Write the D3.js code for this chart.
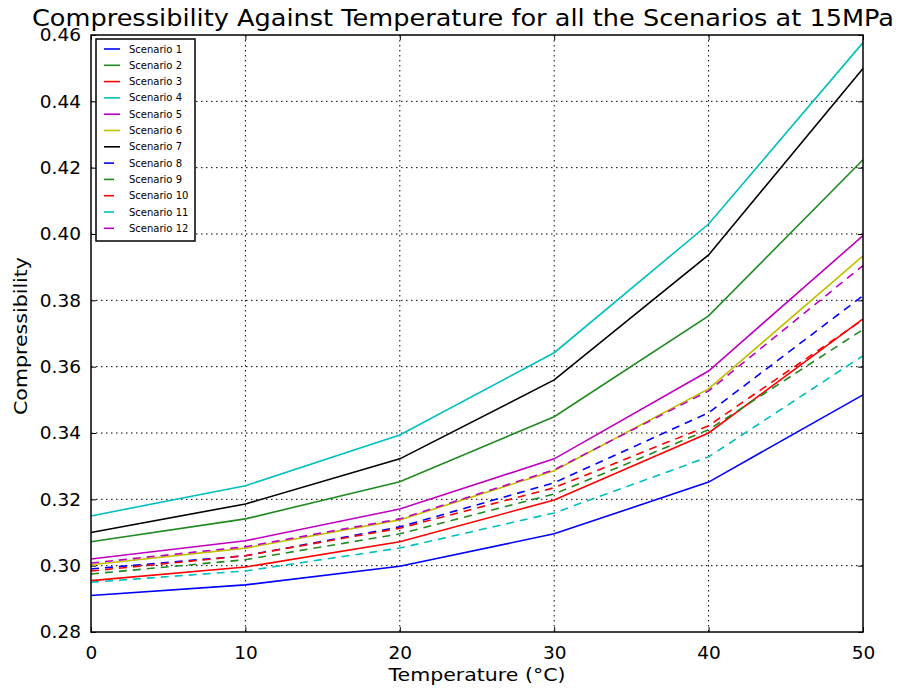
<!DOCTYPE html>
<html>
<head>
<meta charset="utf-8">
<script src="https://cdn.jsdelivr.net/npm/d3@7"></script>
<style>
  body { margin: 0; background: #fff; }
  text { font-family: "DejaVu Sans", sans-serif; fill: #000; }
</style>
</head>
<body>
<div id="chart"></div>
<script>
// temperatures (deg C)
var temps = [0, 10, 20, 30, 40, 50];

// compressibility, one array per scenario
var scenario1  = [0.2910, 0.2942, 0.2998, 0.3096, 0.3252, 0.3515];
var scenario2  = [0.3072, 0.3141, 0.3253, 0.3449, 0.3753, 0.4224];
var scenario3  = [0.2955, 0.2996, 0.3072, 0.3198, 0.3400, 0.3744];
var scenario4  = [0.3150, 0.3241, 0.3394, 0.3642, 0.4030, 0.4577];
var scenario5  = [0.3020, 0.3075, 0.3171, 0.3322, 0.3587, 0.3995];
var scenario6  = [0.3003, 0.3053, 0.3138, 0.3286, 0.3533, 0.3934];
var scenario7  = [0.3100, 0.3186, 0.3322, 0.3560, 0.3937, 0.4499];
var scenario8  = [0.2990, 0.3030, 0.3117, 0.3250, 0.3461, 0.3814];
var scenario9  = [0.2975, 0.3018, 0.3096, 0.3216, 0.3410, 0.3712];
var scenario10 = [0.2984, 0.3030, 0.3113, 0.3235, 0.3422, 0.3742];
var scenario11 = [0.2950, 0.2984, 0.3053, 0.3159, 0.3328, 0.3633];
var scenario12 = [0.3008, 0.3057, 0.3141, 0.3289, 0.3527, 0.3905];

var names = ["Scenario 1", "Scenario 2", "Scenario 3", "Scenario 4", "Scenario 5", "Scenario 6",
             "Scenario 7", "Scenario 8", "Scenario 9", "Scenario 10", "Scenario 11", "Scenario 12"];
var allValues = [scenario1, scenario2, scenario3, scenario4, scenario5, scenario6,
                 scenario7, scenario8, scenario9, scenario10, scenario11, scenario12];

var xTicks = [0, 10, 20, 30, 40, 50];
var yTicks = [0.28, 0.30, 0.32, 0.34, 0.36, 0.38, 0.40, 0.42, 0.44, 0.46];

var colors = ["#0000ff", "#1f8a1f", "#ff0000", "#00bfbf", "#bf00bf", "#bfbf00", "#000000"];

var svgWidth = 905, svgHeight = 689;
var margin = {top: 35, right: 42, bottom: 57, left: 91};
var width = svgWidth - margin.left - margin.right;
var height = svgHeight - margin.top - margin.bottom;

var svg = d3.select("#chart").append("svg")
  .attr("width", svgWidth)
  .attr("height", svgHeight);

var chartGroup = svg.append("g")
  .attr("transform", `translate(${margin.left}, ${margin.top})`);

var xScale = d3.scaleLinear().domain([0, 50]).range([0, width]);
var yScale = d3.scaleLinear().domain([0.28, 0.46]).range([height, 0]);

// grid
chartGroup.append("g").selectAll("line")
  .data(xTicks.slice(1, -1)).enter().append("line")
  .attr("x1", d => xScale(d)).attr("x2", d => xScale(d))
  .attr("y1", 0).attr("y2", height)
  .attr("stroke", "#000").attr("stroke-width", 1)
  .attr("stroke-dasharray", "1.5,3.5");
chartGroup.append("g").selectAll("line")
  .data(yTicks.slice(1, -1)).enter().append("line")
  .attr("y1", d => yScale(d)).attr("y2", d => yScale(d))
  .attr("x1", 0).attr("x2", width)
  .attr("stroke", "#000").attr("stroke-width", 1)
  .attr("stroke-dasharray", "1.5,3.5");

// axes, ticks pointing inwards
var fmt = d3.format(".2f");
var xAxis = chartGroup.append("g")
  .attr("transform", `translate(0, ${height})`)
  .call(d3.axisBottom(xScale).tickValues(xTicks).tickSizeInner(-5).tickSizeOuter(0).tickPadding(14));
var xAxisTop = chartGroup.append("g")
  .call(d3.axisTop(xScale).tickValues(xTicks).tickSizeInner(-5).tickSizeOuter(0).tickFormat(""));
var yAxis = chartGroup.append("g")
  .call(d3.axisLeft(yScale).tickValues(yTicks).tickSizeInner(-5).tickSizeOuter(0).tickPadding(10).tickFormat(fmt));
var yAxisRight = chartGroup.append("g")
  .attr("transform", `translate(${width}, 0)`)
  .call(d3.axisRight(yScale).tickValues(yTicks).tickSizeInner(-5).tickSizeOuter(0).tickFormat(""));

[xAxis, xAxisTop, yAxis, yAxisRight].forEach(function(a) {
  a.select(".domain").remove();
  a.selectAll("line").attr("stroke", "#000").attr("stroke-width", 1);
  a.selectAll("text").style("font-size", "18.5px").attr("fill", "#000");
});

// lines
var line = d3.line()
  .x((d, i) => xScale(temps[i]))
  .y(d => yScale(d));

allValues.forEach(function(vals, i) {
  chartGroup.append("path")
    .datum(vals)
    .attr("d", line)
    .attr("fill", "none")
    .attr("stroke", colors[i % 7])
    .attr("stroke-width", 1.6)
    .attr("stroke-dasharray", i >= 7 ? "8,6" : null);
});

// frame
chartGroup.append("rect")
  .attr("width", width).attr("height", height)
  .attr("fill", "none").attr("stroke", "#000").attr("stroke-width", 1.5);

// legend
var legend = chartGroup.append("g").attr("transform", "translate(5, 4)");
legend.append("rect")
  .attr("width", 99).attr("height", 202)
  .attr("fill", "#fff").attr("stroke", "#000").attr("stroke-width", 1.5);
names.forEach(function(n, i) {
  var y = 10 + i * 16.3;
  legend.append("line")
    .attr("x1", 8).attr("x2", i >= 7 ? 18 : 24)
    .attr("y1", y).attr("y2", y)
    .attr("stroke", colors[i % 7]).attr("stroke-width", 1.6);
  legend.append("text")
    .attr("x", 33).attr("y", y).attr("dy", "0.35em")
    .style("font-size", "10px")
    .text(n);
});

// title and labels
svg.append("text")
  .attr("x", 463).attr("y", 26)
  .attr("text-anchor", "middle")
  .attr("textLength", 862).attr("lengthAdjust", "spacingAndGlyphs")
  .style("font-size", "23px")
  .text("Compressibility Against Temperature for all the Scenarios at 15MPa");

svg.append("text")
  .attr("x", 477).attr("y", 681)
  .attr("text-anchor", "middle")
  .attr("textLength", 177).attr("lengthAdjust", "spacingAndGlyphs")
  .style("font-size", "18px")
  .text("Temperature (°C)");

svg.append("text")
  .attr("transform", "translate(27, 336) rotate(-90)")
  .attr("text-anchor", "middle")
  .attr("textLength", 158).attr("lengthAdjust", "spacingAndGlyphs")
  .style("font-size", "18px")
  .text("Compressibility");
</script>
</body>
</html>
